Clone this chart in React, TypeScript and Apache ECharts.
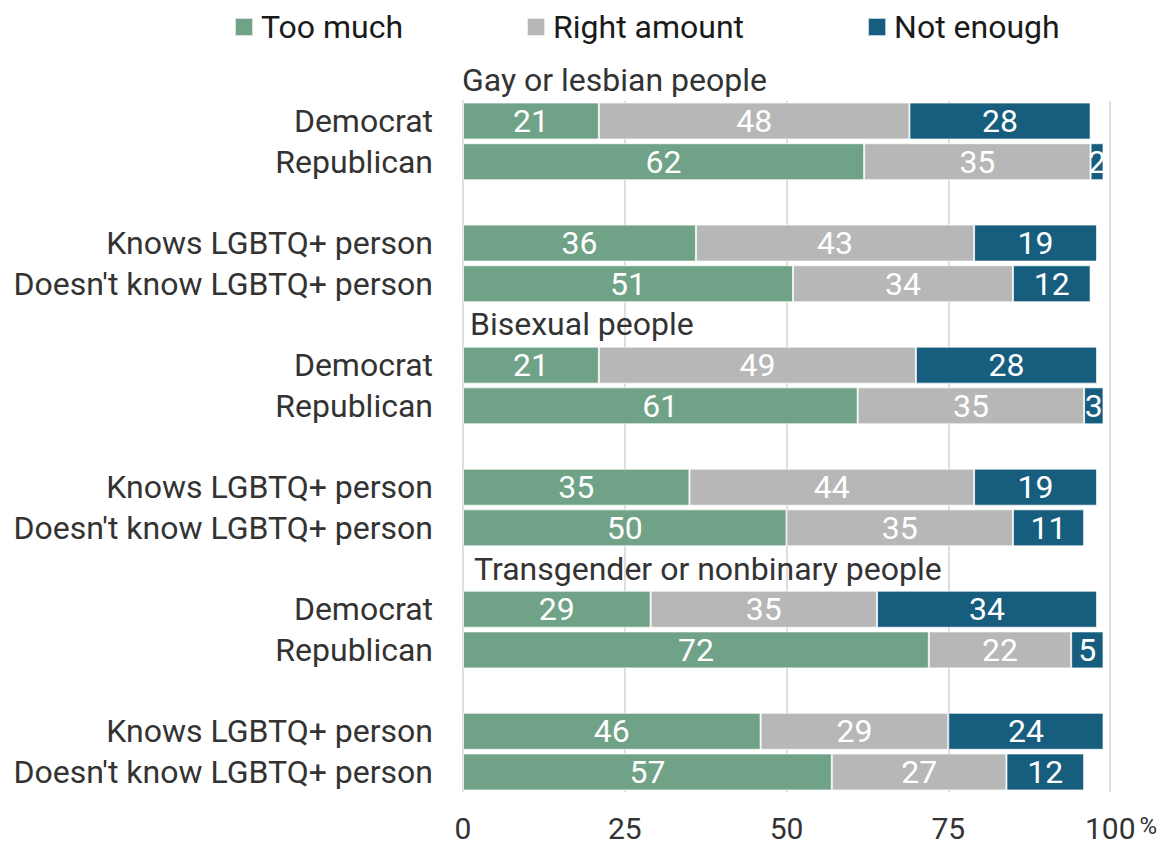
import React, { useEffect, useRef } from "react";
import * as echarts from "echarts";

const categories = [
  "Democrat",
  "Republican",
  "",
  "Knows LGBTQ+ person",
  "Doesn't know LGBTQ+ person",
  "",
  "Democrat",
  "Republican",
  "",
  "Knows LGBTQ+ person",
  "Doesn't know LGBTQ+ person",
  "",
  "Democrat",
  "Republican",
  "",
  "Knows LGBTQ+ person",
  "Doesn't know LGBTQ+ person",
];

const tooMuch = [21, 62, null, 36, 51, null, 21, 61, null, 35, 50, null, 29, 72, null, 46, 57];
const rightAmount = [48, 35, null, 43, 34, null, 49, 35, null, 44, 35, null, 35, 22, null, 29, 27];
const notEnough = [28, 2, null, 19, 12, null, 28, 3, null, 19, 11, null, 34, 5, null, 24, 12];

const groupTitles = ["Gay or lesbian people", "Bisexual people", "Transgender or nonbinary people"];
const groupTitleSlots = [-1, 5, 11];
const groupTitleOffsets = [-1, 7, 11];

const seriesNames = ["Too much", "Right amount", "Not enough"];
const colors = ["#6fa287", "#b7b7b7", "#175d7e"];

const FONT = "Roboto";

export default function App() {
  const ref = useRef<HTMLDivElement>(null);

  useEffect(() => {
    if (!ref.current) return;
    const chart = echarts.init(ref.current, undefined, { renderer: "svg" });
    const values = [tooMuch, rightAmount, notEnough];
    chart.setOption({
      animation: false,
      textStyle: { fontFamily: FONT },
      legend: {
        left: 234,
        top: 11,
        padding: 0,
        icon: "rect",
        itemWidth: 18,
        itemHeight: 18,
        itemGap: 123,
        textStyle: { fontSize: 32, lineHeight: 30, color: "#1a1a1a", fontFamily: FONT, padding: [0, 0, 0, 3] },
        data: seriesNames,
      },
      grid: { left: 463, right: 58, top: 100.7, bottom: 53.7, containLabel: false },
      xAxis: {
        type: "value",
        min: 0,
        max: 100,
        interval: 25,
        axisLine: { show: false },
        axisTick: { show: false },
        splitLine: { show: true, lineStyle: { color: "#dedede", width: 2 } },
        axisLabel: {
          fontSize: 30,
          lineHeight: 26,
          color: "#333",
          fontFamily: FONT,
          margin: 23,
          formatter: (v: number) => (v === 100 ? "{n|100}{p|%}" : String(v)),
          rich: {
            n: { fontSize: 30, lineHeight: 26, color: "#333", fontFamily: FONT, padding: [0, 0, 0, 22] },
            p: { fontSize: 24, lineHeight: 24, color: "#333", fontFamily: FONT, padding: [0, 0, 5, 4] },
          },
        },
      },
      yAxis: {
        type: "category",
        inverse: true,
        data: categories,
        axisLine: { show: false },
        axisTick: { show: false },
        axisLabel: { interval: 0, fontSize: 32, color: "#333", fontFamily: FONT, margin: 30 },
      },
      series: seriesNames.map((name, i) => ({
        name,
        type: "bar",
        stack: "total",
        barWidth: 37,
        data: values[i],
        itemStyle: { color: colors[i], borderColor: "rgba(255,255,255,0.7)", borderWidth: 1 },
        label: {
          show: true,
          position: "inside",
          color: "#fff",
          fontSize: 32,
          fontFamily: FONT,
        },
      })),
    });

    const p0 = chart.convertToPixel({ gridIndex: 0 }, [0, 0]) as number[];
    const p1 = chart.convertToPixel({ gridIndex: 0 }, [0, 1]) as number[];
    const step = p1[1] - p0[1];
    chart.setOption({
      graphic: groupTitles.map((t, i) => ({
        type: "text",
        x: p0[0] + groupTitleOffsets[i],
        y: p0[1] + step * groupTitleSlots[i],
        style: {
          text: t,
          fontSize: 32,
          fontFamily: FONT,
          fill: "#333",
          textAlign: "left",
          textVerticalAlign: "middle",
          verticalAlign: "middle",
        },
        z: 10,
      })),
    });

    return () => chart.dispose();
  }, []);

  return (
    <div
      ref={ref}
      style={{ position: "fixed", left: 0, top: 0, width: 1168, height: 846, background: "#fff" }}
    />
  );
}
